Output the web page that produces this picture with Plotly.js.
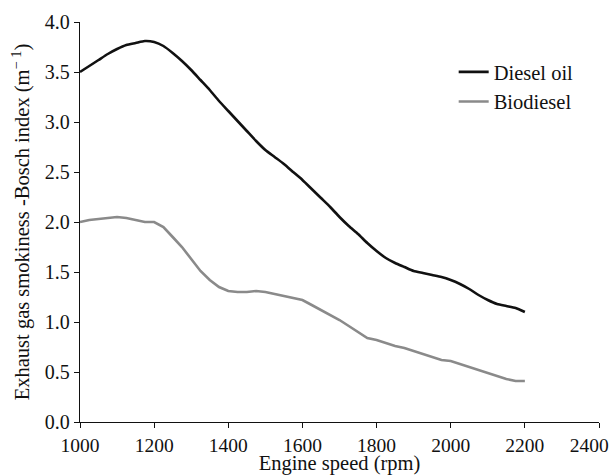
<!DOCTYPE html>
<html>
<head>
<meta charset="utf-8">
<script src="https://cdn.plot.ly/plotly-3.0.1.min.js"></script>
<style>html,body{margin:0;padding:0;background:#fff;}#chart{width:612px;height:475px;}</style>
</head>
<body>
<div id="chart"></div>
<script>
var rpm = [1000,1025,1050,1075,1100,1125,1150,1175,1200,1225,1250,1275,1300,1325,1350,1375,1400,1425,1450,1475,1500,1525,1550,1575,1600,1625,1650,1675,1700,1725,1750,1775,1800,1825,1850,1875,1900,1925,1950,1975,2000,2025,2050,2075,2100,2125,2150,2175,2200];
var dieselOil = [3.50,3.56,3.62,3.68,3.73,3.77,3.79,3.81,3.80,3.76,3.69,3.61,3.52,3.42,3.32,3.21,3.11,3.01,2.91,2.81,2.72,2.65,2.58,2.50,2.42,2.33,2.24,2.15,2.05,1.96,1.88,1.79,1.71,1.64,1.59,1.55,1.51,1.49,1.47,1.45,1.42,1.38,1.33,1.27,1.22,1.18,1.16,1.14,1.10];
var biodiesel = [2.00,2.02,2.03,2.04,2.05,2.04,2.02,2.00,2.00,1.95,1.85,1.75,1.63,1.51,1.42,1.35,1.31,1.30,1.30,1.31,1.30,1.28,1.26,1.24,1.22,1.17,1.12,1.07,1.02,0.96,0.90,0.84,0.82,0.79,0.76,0.74,0.71,0.68,0.65,0.62,0.61,0.58,0.55,0.52,0.49,0.46,0.43,0.41,0.41];
var xTicks = [1000,1200,1400,1600,1800,2000,2200,2400];
var yTicks = [0,0.5,1.0,1.5,2.0,2.5,3.0,3.5,4.0];

var font = 'Liberation Serif, Times New Roman, serif';
// last x label is nudged left (trailing no-break spaces) so it stays inside the page, as in the reference
var xTickText = xTicks.map(function(v, i){ return i === xTicks.length - 1 ? String(v) + '\u00A0\u00A0\u00A0\u00A0' : String(v); });
var traces = [
  {x: rpm, y: dieselOil, name: 'Diesel oil', mode: 'lines', line: {color: '#111111', width: 2.6, shape: 'spline', smoothing: 0.6}},
  {x: rpm, y: biodiesel, name: 'Biodiesel', mode: 'lines', line: {color: '#8a8a8a', width: 2.6}}
];
var layout = {
  width: 612, height: 475,
  margin: {l: 80, r: 13, t: 22, b: 53},
  paper_bgcolor: '#fff', plot_bgcolor: '#fff',
  font: {family: font, size: 20, color: '#111'},
  showlegend: true,
  legend: {x: 0.72, y: 0.925, xanchor: 'left', yanchor: 'top', bgcolor: 'rgba(0,0,0,0)',
           font: {family: font, size: 20.5, color: '#111'}, tracegroupgap: 0, itemwidth: 30},
  xaxis: {
    range: [1000, 2400], tickvals: xTicks, ticktext: xTickText, ticklabeloverflow: 'allow',
    showgrid: false, zeroline: false, showline: true, linecolor: '#111', linewidth: 1.2,
    ticks: 'outside', ticklen: 5, tickcolor: '#111', tickfont: {family: font, size: 19.5, color: '#111'},
    title: {text: 'Engine speed (rpm)', font: {family: font, size: 20.5, color: '#111'}, standoff: 4}
  },
  yaxis: {
    range: [0, 4.0], tickvals: yTicks, ticktext: yTicks.map(function(v){return v.toFixed(1);}),
    showgrid: false, zeroline: false, showline: true, linecolor: '#111', linewidth: 1.2,
    ticks: 'outside', ticklen: 5, tickcolor: '#111', tickfont: {family: font, size: 20, color: '#111'},
    title: {text: 'Exhaust gas smokiness -Bosch index (m<sup>\u2212 1</sup>)', font: {family: font, size: 20.5, color: '#111'}, standoff: 9}
  }
};
Plotly.newPlot('chart', traces, layout, {displayModeBar: false, staticPlot: true});
</script>
</body>
</html>
